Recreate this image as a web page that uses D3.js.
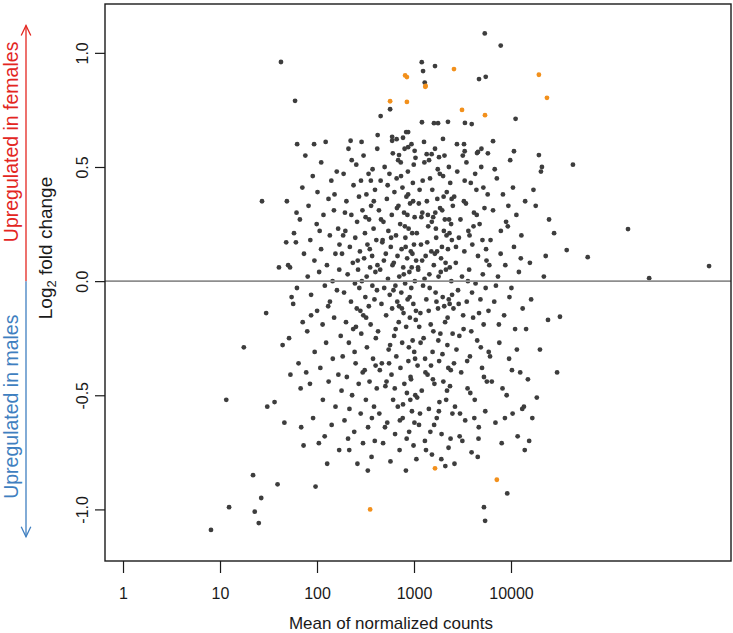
<!DOCTYPE html>
<html>
<head>
<meta charset="utf-8">
<script src="https://d3js.org/d3.v7.min.js"></script>
<style>
  body { margin: 0; background: #fff; }
  svg { display: block; font-family: "Liberation Sans", Arial, Helvetica, sans-serif; }
</style>
</head>
<body>
<svg width="733" height="633"></svg>
<script>
// mean of normalized counts, one entry per gene (not significant)
const baseMean = [
  8.07, 12.4, 11.6, 17.6, 21.9, 22.8, 25.1, 26.6, 27.1, 29.9, 30.7,
  42.5, 59.4, 62.4, 36.5, 40.5, 44.2, 48.9, 50.4, 52.7, 54.7,
  56.8, 60.6, 64.5, 66.6, 68.7, 71.2, 53.2, 46.1, 62.1, 70.6,
  57.9, 48.1, 67.8, 72.7, 39.2, 51.5, 61.5, 73.4,
  75.8, 79.3, 80.2, 81.8, 84.6, 85.3, 86.9, 90.4, 91.1, 94.0,
  94.6, 96.6, 99.2, 100.2, 101.2, 104.5, 105.2, 108.2, 110.2, 110.5,
  114.2, 114.9, 116.6, 120.4, 122.8, 124.1, 126.6, 127.3, 131.4, 131.8,
  135.6, 135.9, 140.5, 141.6, 144.7, 145.4, 149.4, 150.1, 154.8, 155.1,
  159.8, 160.5, 165.2, 166.0, 169.3, 170.4, 175.5, 77.4, 93.3, 120.0,
  130.4, 151.6, 169.6, 106.5, 86.9,
  181, 184, 188, 190, 192, 196, 199, 201, 203, 207,
  211, 213, 215, 218, 222, 224, 226, 230, 234, 236,
  238, 242, 246, 248, 250, 254, 257, 259, 261, 265,
  269, 271, 273, 277, 282, 284, 286, 290, 294, 298,
  300, 302, 306, 310, 312, 315, 319, 323, 325, 327,
  331, 336, 340, 342, 344, 348, 353, 357, 361, 365,
  370, 372, 374, 378, 383, 387, 391, 396, 400, 404,
  409, 413, 418, 422, 179, 194, 209, 228, 244, 263,
  280, 296, 317, 334, 350, 368, 385, 402, 415, 186,
  216, 252, 288, 321, 359, 394, 420,
  426, 435, 439, 448, 453, 462, 466, 475, 480, 484,
  493, 498, 507, 512, 516, 525, 530, 539, 544, 548,
  558, 562, 572, 576, 586, 590, 595, 605, 609, 619,
  624, 628, 638, 643, 652, 657, 662, 672, 676, 681,
  691, 696, 705, 710, 720, 725, 730, 740, 745, 755,
  760, 765, 775, 780, 790, 795, 800, 810, 815, 825,
  830, 835, 845, 850, 860, 865, 875, 880, 891, 896,
  906, 911, 921, 927, 937, 942, 952, 958, 968, 973,
  984, 989, 999, 1005, 1015, 1020, 1031, 1036, 1047, 1052,
  444, 471, 502, 535, 567, 600, 633, 667, 701, 735,
  770, 805, 840, 870, 901, 932, 963, 994, 1026, 1058,
  457, 521, 581, 647, 715, 785, 855, 916, 979, 1042,
  489, 553, 614, 686, 750, 820, 885, 947, 1010, 453,
  567, 595, 595, 662, 770, 830, 870, 870, 1015, 701,
  1068, 1089, 1105, 1126, 1142, 1164, 1180, 1202, 1218, 1240,
  1256, 1279, 1295, 1318, 1340, 1357, 1379, 1401, 1423, 1440,
  1463, 1486, 1508, 1531, 1554, 1577, 1600, 1623, 1646, 1670,
  1693, 1716, 1739, 1769, 1792, 1816, 1846, 1870, 1900, 1924,
  1953, 1977, 2007, 2031, 2061, 2092, 2116, 2146, 2177, 2208,
  2239, 2270, 2300, 2331, 2363, 2394, 2425, 2456, 2488, 2513,
  1078, 1121, 1169, 1213, 1268, 1312, 1368, 1418, 1474, 1525,
  1583, 1641, 1704, 1757, 1828, 1887, 1965, 2019, 2103, 2165,
  2220, 2288, 2350, 2413, 2469, 1100, 1153, 1229, 1301, 1390,
  1451, 1543, 1612, 1681, 1781, 1857, 1941, 2049, 2134, 2257,
  2319, 2381, 2444, 1132, 1284, 1429, 1566, 1728, 1912, 2079,
  2189, 2338, 2501, 1191, 1329, 1497, 1658, 1804, 1995, 2282,
  1202, 1646, 1240, 1290, 1207, 1606, 1769, 2239, 1989, 1351,
  1520, 1810,
  2551, 2595, 2645, 2696, 2740, 2792, 2843, 2901, 2954, 3013,
  3065, 3125, 3184, 3244, 3304, 3370, 3430, 3498, 3565, 3633,
  3703, 3772, 3848, 3923, 3991, 4067, 4151, 4228, 4312, 4397,
  4483, 4568, 4653, 4746, 4839, 4933, 5027, 5122, 5224, 5327,
  5429, 5532, 5637, 5748, 5860, 5974, 2614, 2772, 2934, 3151,
  3330, 3532, 3737, 3964, 4186, 4433, 4681, 4954, 5261, 5592,
  5890, 2708, 2980, 3270, 3593, 3895, 4270, 4624, 5078, 5480,
  2583, 2888, 3211, 3470, 3806, 4109, 4540, 4882, 5188, 5777,
  5363, 4681, 5488, 3350, 3936, 3277, 3330, 4568, 4462, 5261,
  5407,
  6153, 6340, 6528, 6719, 6912, 7144, 7340, 7578, 7818, 8017,
  8255, 8494, 8736, 9021, 9267, 9557, 9808, 10100, 10391, 10726,
  11022, 11364, 11708, 12058, 12446, 12794, 13189, 13588, 13991, 6078,
  6796, 7499, 8175, 8898, 9640, 10475, 11493, 12619, 13855, 6989,
  7858, 8655, 9391, 10225, 7834, 11150, 6528, 10726, 9143,
  19390, 20830, 20350, 43500, 24670, 22790, 15660, 16120, 14310, 24070,
  14940, 18450, 13060, 15390, 31960, 37530, 61770, 160800, 265700, 1101000,
  17040, 19880, 27810, 17980, 16580, 29870, 21810
];

const log2FC = [
  -1.09, -0.99, -0.52, -0.29, -0.85, -1.01, -1.06, -0.95, 0.35, -0.14, -0.55,
  0.96, 0.79, 0.60, -0.53, 0.06, -0.28, 0.35, 0.07, 0.06, -0.07,
  -0.10, 0.17, -0.36, 0.27, -0.64, -0.18, -0.41, -0.62, -0.03, 0.41,
  0.21, 0.17, -0.47, -0.72, -0.89, -0.25, 0.30, 0.12,
  0.55, -0.22, 0.02, 0.33, -0.45, 0.18, -0.06, 0.46, -0.60, 0.09,
  -0.31, -0.90, 0.25, -0.13, 0.39, -0.71, 0.04, -0.38, 0.14, 0.52,
  -0.19, -0.52, 0.29, -0.02, 0.61, -0.27, 0.07, -0.80, 0.36, -0.44,
  0.20, -0.09, 0.44, -0.63, 0.00, -0.34, 0.31, -0.16, 0.12, -0.55,
  0.48, -0.04, 0.23, -0.41, -0.74, 0.16, -0.24, -0.40, 0.60, -0.68,
  -0.11, 0.38, 0.05, 0.22, -0.15,
  0.12, -0.33, 0.47, -0.05, -0.61, 0.22, -0.18, 0.35, -0.42, 0.03,
  0.58, -0.27, -0.74, 0.15, 0.615, -0.09, 0.29, -0.50, 0.08, -0.21,
  0.42, -0.66, -0.01, 0.19, -0.36, 0.51, -0.12, 0.26, -0.80, 0.05,
  -0.45, 0.37, -0.03, 0.13, -0.58, 0.44, -0.23, 0.00, 0.31, -0.71,
  -0.15, 0.55, 0.10, -0.39, 0.21, -0.07, -0.52, 0.38, 0.02, -0.29,
  0.16, -0.64, 0.47, -0.11, 0.27, -0.44, 0.06, -0.19, 0.33, -0.77,
  0.11, -0.02, 0.49, -0.34, 0.23, -0.55, -0.08, 0.40, 0.04, -0.25,
  0.18, -0.47, 0.58, 0.64, -0.48, 0.30, -0.69, 0.53, -0.31, 0.09,
  -0.13, -0.40, 0.28, -0.83, 0.14, -0.60, 0.35, -0.37, -0.04, 0.20,
  -0.56, -0.20, 0.61, -0.16, 0.44, -0.70, 0.07,
  -0.22, 0.31, -0.58, 0.05, 0.44, -0.10, -0.36, 0.18, -0.71, 0.26,
  -0.03, 0.50, -0.46, 0.12, -0.15, 0.36, -0.62, 0.01, 0.22, -0.30,
  0.47, -0.06, -0.79, 0.15, -0.41, 0.29, -0.12, 0.56, -0.52, 0.08,
  -0.24, 0.39, -0.67, -0.02, 0.20, -0.33, 0.45, -0.09, 0.11, -0.55,
  0.33, -0.18, 0.02, -0.74, 0.25, -0.38, 0.52, -0.05, 0.14, -0.27,
  0.41, -0.60, 0.06, -0.14, 0.30, -0.45, 0.58, -0.01, 0.19, -0.83,
  -0.20, 0.37, -0.49, 0.10, -0.08, 0.48, -0.35, 0.23, -0.66, 0.04,
  -0.16, 0.34, -0.42, 0.13, -0.03, 0.60, -0.57, 0.21, -0.26, 0.43,
  -0.10, -0.72, 0.16, -0.31, 0.28, 0.00, -0.50, 0.54, -0.13, 0.09,
  -0.39, 0.17, -0.64, 0.42, -0.28, 0.07, -0.47, 0.32, -0.11, 0.46,
  -0.54, 0.24, -0.69, 0.38, -0.07, -0.43, 0.12, 0.51, -0.34, -0.78,
  0.27, -0.44, 0.19, -0.21, -0.61, 0.03, 0.29, -0.52, 0.35, -0.17,
  0.09, -0.36, -0.04, 0.53, -0.12, 0.15, -0.29, 0.06, -0.62, 0.723,
  0.753, 0.632, 0.615, 0.622, 0.628, 0.653, 0.653, 0.587, 0.571, 0.552,
  0.21, -0.37, 0.05, -0.63, 0.40, -0.14, 0.16, -0.48, 0.30, -0.02,
  -0.25, 0.52, -0.70, 0.11, -0.08, 0.35, -0.41, 0.24, -0.56, 0.03,
  0.45, -0.19, 0.13, -0.76, -0.31, 0.28, 0.07, -0.45, 0.58, -0.05,
  0.19, -0.60, 0.36, -0.12, 0.02, -0.35, 0.47, -0.23, 0.10, -0.67,
  0.31, -0.07, -0.44, 0.22, 0.55, -0.18, 0.08, -0.52, 0.39, -0.28,
  0.14, -0.73, 0.27, -0.10, 0.43, -0.39, 0.00, 0.18, -0.58, 0.33,
  -0.51, 0.34, -0.27, 0.09, 0.61, -0.40, 0.17, -0.13, -0.66, 0.26,
  -0.22, 0.12, -0.09, 0.49, -0.53, 0.04, -0.32, 0.37, -0.81, 0.20,
  -0.16, 0.50, -0.46, 0.25, -0.06, 0.06, -0.58, 0.44, -0.34, 0.29,
  -0.03, 0.40, -0.63, 0.23, -0.26, 0.32, 0.15, -0.11, 0.05, -0.38,
  0.21, -0.69, 0.36, -0.20, 0.01, 0.53, -0.43, 0.13, -0.78, 0.27,
  -0.48, 0.06, -0.23, 0.28, -0.74, -0.37, 0.30, -0.57, 0.46, -0.08,
  0.959, 0.942, 0.920, 0.870, 0.696, 0.692, 0.692, 0.698, 0.623, 0.556,
  0.556, 0.543,
  -0.12, 0.37, -0.55, 0.08, -0.30, 0.48, -0.04, 0.19, -0.68, 0.27,
  -0.40, 0.02, 0.55, -0.21, 0.13, -0.61, 0.34, -0.09, -0.47, 0.22,
  0.05, -0.33, 0.43, -0.75, 0.16, -0.16, 0.30, -0.52, -0.01, 0.40,
  -0.26, 0.11, -0.64, 0.25, -0.08, 0.50, -0.38, 0.03, -0.19, 0.32,
  -0.57, 0.14, -0.44, 0.38, -0.13, 0.07, -0.80, 0.60, -0.24, -0.70,
  0.44, -0.35, 0.20, -0.05, -0.60, 0.29, -0.14, 0.58, -0.42, 0.09,
  -0.31, 0.15, -0.58, 0.35, 0.00, -0.22, 0.47, -0.69, 0.18, -0.03,
  -0.36, -0.10, -0.15, 0.52, -0.49, 0.24, -0.77, -0.29, 0.41, 0.56,
  1.085, 0.885, 0.895, 0.693, 0.688, 0.600, 0.569, 0.566, 0.561, -0.99,
  -1.05,
  0.18, -0.44, 0.31, -0.09, -0.62, 0.45, 0.02, -0.27, 0.12, -0.71,
  0.38, -0.15, 0.07, -0.50, 0.24, -0.34, 0.53, -0.03, -0.58, 0.15,
  -0.21, 0.29, -0.68, 0.04, -0.40, 0.20, -0.12, -0.55, 0.35, -0.33,
  0.49, -0.19, -0.47, 0.26, -0.07, 0.41, -0.30, 0.10, -0.74, -0.02,
  0.22, -0.60, 0.33, -0.39, 1.032, 0.711, 0.613, 0.569, -0.93,
  0.552, 0.50, 0.48, 0.51, 0.27, 0.11, 0.08, -0.08, -0.21, -0.17,
  -0.43, -0.51, -0.56, -0.70, -0.156, 0.136, 0.105, 0.228, 0.013, 0.066,
  0.40, -0.30, 0.21, 0.33, -0.60, -0.40, 0.02
];

// genes marked as significant (orange)
const sigMean = [567, 810, 845, 845, 1318, 1307, 2583, 3125, 5393, 19390, 23480, 1646, 7144, 353];
const sigLFC = [0.788, 0.901, 0.894, 0.785, 0.855, 0.851, 0.929, 0.750, 0.727, 0.904, 0.803, -0.82, -0.87, -1.00];

const xTicks = [1, 10, 100, 1000, 10000];
const yTicks = [-1, -0.5, 0, 0.5, 1];
const xDomain = [0.652, 1854000];
const yDomain = [-1.226, 1.214];
const arrowTip = 1.12;

class MAPlot {
  constructor(){
    let self = this;
    self.svg = d3.select("svg");
    self.margin = {top: 4, right: 2, bottom: 72, left: 105};
    self.width = +self.svg.attr("width") - self.margin.left - self.margin.right;
    self.height = +self.svg.attr("height") - self.margin.top - self.margin.bottom;
    self.g = self.svg.append("g").attr("transform", "translate(" + self.margin.left + "," + self.margin.top + ")");
    self.x = d3.scaleLog().domain(xDomain).range([0, self.width]);
    self.y = d3.scaleLinear().domain(yDomain).range([self.height, 0]);
  }
}

MAPlot.prototype.draw = function(){
  let self = this;
  let genes = baseMean.map(function(m, i){ return {m: m, lfc: log2FC[i]}; });
  let sig = sigMean.map(function(m, i){ return {m: m, lfc: sigLFC[i]}; });

  self.g.append("g").selectAll("circle")
      .data(genes)
    .enter().append("circle")
      .attr("cx", function(d){ return self.x(d.m); })
      .attr("cy", function(d){ return self.y(d.lfc); })
      .attr("r", 2.4)
      .attr("fill", "#3d3d3d");

  self.g.append("g").selectAll("circle")
      .data(sig)
    .enter().append("circle")
      .attr("cx", function(d){ return self.x(d.m); })
      .attr("cy", function(d){ return self.y(d.lfc); })
      .attr("r", 2.4)
      .attr("fill", "#f2901c");

  // horizontal line at zero
  self.g.append("line")
      .attr("x1", 0).attr("x2", self.width)
      .attr("y1", self.y(0)).attr("y2", self.y(0))
      .attr("stroke", "#8e8e8e")
      .attr("stroke-width", 1.8);

  self.g.append("rect")
      .attr("width", self.width)
      .attr("height", self.height)
      .attr("fill", "none")
      .attr("stroke", "#1a1a1a")
      .attr("stroke-width", 1.4);

  let xAxis = self.g.append("g")
      .attr("transform", "translate(0," + self.height + ")")
      .call(d3.axisBottom(self.x).tickValues(xTicks).tickFormat(d3.format("d")).tickSize(12).tickPadding(15));
  xAxis.select(".domain").remove();
  xAxis.attr("font-size", 16).attr("font-family", null);
  xAxis.selectAll("line").attr("stroke", "#1a1a1a").attr("stroke-width", 1.2);
  xAxis.selectAll("text").attr("fill", "#1a1a1a");

  let yAxis = self.g.append("g")
      .call(d3.axisLeft(self.y).tickValues(yTicks).tickFormat(function(d){ return d.toFixed(1); }).tickSize(10));
  yAxis.select(".domain").remove();
  yAxis.attr("font-size", 16).attr("font-family", null);
  yAxis.selectAll("line").attr("stroke", "#1a1a1a").attr("stroke-width", 1.2);
  yAxis.selectAll("text")
      .attr("x", null).attr("dy", null)
      .attr("text-anchor", "middle")
      .attr("fill", "#1a1a1a")
      .attr("transform", "translate(-17,0) rotate(-90)");

  // axis titles
  self.svg.append("text")
      .attr("x", 391).attr("y", 629)
      .attr("text-anchor", "middle")
      .attr("font-size", 17)
      .attr("fill", "#1a1a1a")
      .text("Mean of normalized counts");

  let ylab = self.svg.append("text")
      .attr("transform", "translate(52,248) rotate(-90)")
      .attr("text-anchor", "middle")
      .attr("font-size", 19)
      .attr("fill", "#1a1a1a");
  ylab.append("tspan").text("Log");
  ylab.append("tspan").attr("font-size", 13).attr("dy", 4).text("2");
  ylab.append("tspan").attr("dy", -4).text(" fold change");

  // direction arrows on the left
  let ax = 26;
  let y0 = self.margin.top + self.y(0);
  let side = [
    {to: self.margin.top + self.y(arrowTip), color: "#e3261f", label: "Upregulated in females", mid: self.margin.top + self.y(0.61)},
    {to: self.margin.top + self.y(-arrowTip), color: "#3f7fc0", label: "Upregulated in males", mid: self.margin.top + self.y(-0.55)}
  ];
  side.forEach(function(s){
    let dir = s.to < y0 ? 1 : -1;
    self.svg.append("line")
        .attr("x1", ax).attr("x2", ax)
        .attr("y1", y0).attr("y2", s.to)
        .attr("stroke", s.color).attr("stroke-width", 1.3);
    self.svg.append("path")
        .attr("d", "M" + (ax - 4.8) + "," + (s.to + dir * 10) + "L" + ax + "," + s.to + "L" + (ax + 4.8) + "," + (s.to + dir * 10))
        .attr("fill", "none")
        .attr("stroke", s.color).attr("stroke-width", 1.3);
    self.svg.append("text")
        .attr("transform", "translate(17.5," + s.mid + ") rotate(-90)")
        .attr("text-anchor", "middle")
        .attr("font-size", 19.5)
        .attr("fill", s.color)
        .text(s.label);
  });
};

let plot = new MAPlot();
plot.draw();
</script>
</body>
</html>
